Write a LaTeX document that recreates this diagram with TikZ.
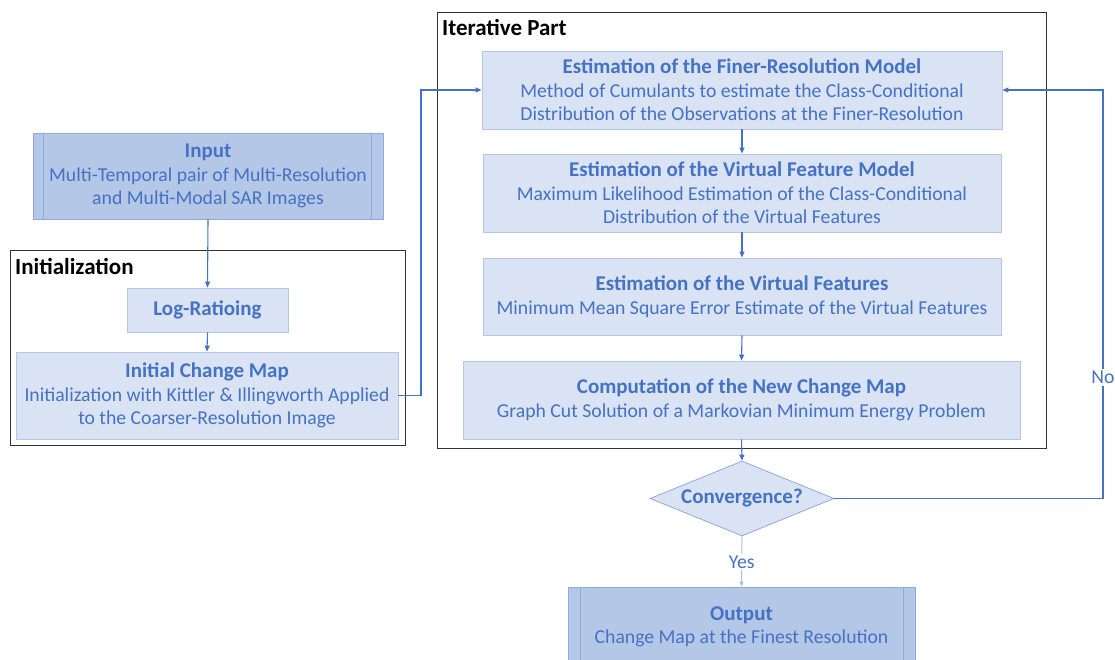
\documentclass[tikz,border=0pt]{standalone}
\usepackage{fontspec}
\setmainfont{Carlito}
\usetikzlibrary{arrows.meta,shapes.geometric}
\definecolor{txtblue}{HTML}{4472C4}
\definecolor{lightfill}{HTML}{DAE3F3}
\definecolor{lightborder}{HTML}{B4C7E7}
\definecolor{darkfill}{HTML}{B4C7E7}
\definecolor{darkborder}{HTML}{8FAADC}
\definecolor{arrowblue}{HTML}{4472C4}
\definecolor{fadeblue}{HTML}{A9BFE6}
\newcommand{\ttl}[1]{{\fontsize{21}{23.5}\selectfont\bfseries #1}}
\tikzset{
  basefont/.style={font=\fontsize{19.7}{23.5}\selectfont},
  procbox/.style={basefont, draw=lightborder, fill=lightfill, text=txtblue, align=center, inner sep=0pt, line width=0.8pt},
  iobox/.style={basefont, draw=darkborder, fill=darkfill, text=txtblue, align=center, inner sep=0pt, line width=0.8pt},
  decbox/.style={basefont, shape=diamond, draw=darkborder, fill=lightfill, text=txtblue, inner sep=0pt, line width=0.8pt, minimum width=184pt, minimum height=75pt, shape aspect=2.45},
  frame/.style={draw=black!80, line width=1pt},
  framelabel/.style={font=\fontsize{23}{26}\selectfont\bfseries, text=black, anchor=west, inner sep=0pt},
  conn/.style={draw=arrowblue, line width=1.1pt, -{Triangle[length=6pt,width=5pt]}},
  lbl/.style={basefont, text=txtblue, fill=white, inner sep=2pt}
}
\begin{document}
\begin{tikzpicture}[x=1pt,y=-1pt]
\useasboundingbox (0,0) rectangle (1115,660);
% frames
\draw[frame] (10,250) rectangle (405,445);
\node[framelabel] (initlbl) at (15,266) {Initialization};
\draw[frame] (437,13) rectangle (1046,448);
\node[framelabel] (iterlbl) at (442,28) {Iterative Part};
% left column
\node[iobox, minimum width=350pt, minimum height=86pt] (in) at (208,176)
  {\ttl{Input}\\Multi-Temporal pair of Multi-Resolution\\and Multi-Modal SAR Images};
\draw[darkborder, line width=0.8pt] ([xshift=11pt]in.north west) -- ([xshift=11pt]in.south west);
\draw[darkborder, line width=0.8pt] ([xshift=-12pt]in.north east) -- ([xshift=-12pt]in.south east);
\node[procbox, minimum width=161pt, minimum height=44pt] (lr) at (207.5,310) {\ttl{Log-Ratioing}};
\node[procbox, minimum width=382pt, minimum height=87pt] (icm) at (207,395.5)
  {\ttl{Initial Change Map}\\Initialization with Kittler \& Illingworth Applied\\to the Coarser-Resolution Image};
% iterative column
\node[procbox, minimum width=520pt, minimum height=78pt] (b1) at (742,90)
  {\ttl{Estimation of the Finer-Resolution Model}\\Method of Cumulants to estimate the Class-Conditional\\Distribution of the Observations at the Finer-Resolution};
\node[procbox, minimum width=518pt, minimum height=78pt] (b2) at (742,193)
  {\ttl{Estimation of the Virtual Feature Model}\\Maximum Likelihood Estimation of the Class-Conditional\\Distribution of the Virtual Features};
\node[procbox, minimum width=518pt, minimum height=77pt] (b3) at (742,296.5)
  {\ttl{Estimation of the Virtual Features}\\Minimum Mean Square Error Estimate of the Virtual Features};
\node[procbox, minimum width=557pt, minimum height=78pt] (b4) at (741.5,400)
  {\ttl{Computation of the New Change Map}\\Graph Cut Solution of a Markovian Minimum Energy Problem};
\node[decbox] (dia) at (742,498.5) {\ttl{Convergence?}};
\node[iobox, minimum width=347pt, minimum height=80pt] (out) at (741.5,627)
  {\ttl{Output}\\Change Map at the Finest Resolution};
\draw[darkborder, line width=0.8pt] ([xshift=13pt]out.north west) -- ([xshift=13pt]out.south west);
\draw[darkborder, line width=0.8pt] ([xshift=-12pt]out.north east) -- ([xshift=-12pt]out.south east);
% connectors
\draw[conn] (in.south) -- (lr.north);
\draw[conn] (lr.south) -- (icm.north);
\coordinate (lc) at (421,395.5);
\draw[conn] (icm.east) -- (lc) |- (b1.west);
\draw[conn] (b1.south) -- (b2.north);
\draw[conn] (b2.south) -- (b3.north);
\draw[conn] (b3.south) -- (b4.north);
\draw[conn] (b4.south) -- (dia.north);
\coordinate (rc) at (1103,498.5);
\draw[conn] (dia.east) -- (rc) -- node[lbl, pos=0.296] {No} (rc |- b1.east) -- (b1.east);
\draw[draw=fadeblue, line width=1pt, -{Triangle[length=5pt,width=4pt]}] (dia.south) -- node[lbl, pos=0.51] {Yes} (out.north);
\end{tikzpicture}
\end{document}
